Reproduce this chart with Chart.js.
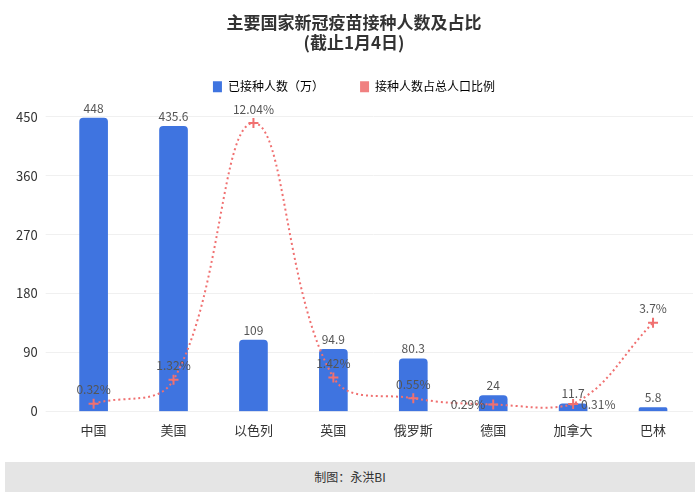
<!DOCTYPE html>
<html><head><meta charset="utf-8">
<script src="https://cdn.jsdelivr.net/npm/chart.js@4"></script>
<style>
body{margin:0;width:700px;height:500px;background:#fff;font-family:"Noto Sans CJK SC","Noto Sans",sans-serif;position:relative;overflow:hidden}
#wrap{position:absolute;left:0;top:0;width:700px;height:458px}
#foot{position:absolute;left:5px;top:462px;width:690px;height:30px;background:#e5e5e5;color:#333;font-size:12px;line-height:30px;text-align:center}
</style></head><body>
<div id="wrap"><canvas id="c" width="700" height="458" style="width:700px;height:458px"></canvas></div>
<div id="foot">制图：永洪BI</div>
<script>
const categories=["中国","美国","以色列","英国","俄罗斯","德国","加拿大","巴林"];
const vaccinated=[448,435.6,109,94.9,80.3,24,11.7,5.8];
const ratio=[0.32,1.32,12.04,1.42,0.55,0.29,0.31,3.7];
const ratioLabels=["0.32%","1.32%","12.04%","1.42%","0.55%","0.29%","0.31%","3.7%"];
const yTicks=[0,90,180,270,360,450];
const FONT='"Noto Sans CJK SC","Noto Sans",sans-serif';
const labels={id:'labels',afterInit(ch){const f=ch.legend.fit;ch.legend.fit=function(){f.call(this);this.height+=14;};},
 afterDatasetsDraw(ch){
 const c=ch.ctx;c.save();c.font='12px '+FONT;c.fillStyle='#555';c.textAlign='center';c.textBaseline='bottom';
 ch.getDatasetMeta(0).data.forEach((b,i)=>c.fillText(String(vaccinated[i]),b.x,b.y-4));
 ch.getDatasetMeta(1).data.forEach((p,i)=>{
  if(i===5){c.textAlign='right';c.textBaseline='middle';c.fillText(ratioLabels[i],p.x-8,p.y);}
  else if(i===6){c.textAlign='left';c.textBaseline='middle';c.fillText(ratioLabels[i],p.x+8,p.y);}
  else{c.textAlign='center';c.textBaseline='bottom';c.fillText(ratioLabels[i],p.x,p.y-8);}
 });c.restore();}};
new Chart(document.getElementById('c'),{
 data:{labels:categories,datasets:[
  {type:'bar',label:'已接种人数（万）',data:vaccinated,backgroundColor:'#3f74e0',barThickness:28,borderRadius:4,yAxisID:'y',order:2},
  {type:'line',label:'接种人数占总人口比例',data:ratio,borderColor:'#f07070',backgroundColor:'#f07070',borderWidth:2,borderDash:[2,3],tension:0.4,pointStyle:'cross',pointRadius:5,pointBorderWidth:2,yAxisID:'y1',order:1}
 ]},
 options:{responsive:false,animation:false,
  layout:{padding:{left:8,right:0,top:0,bottom:17}},
  plugins:{title:{display:true,text:['主要国家新冠疫苗接种人数及占比','(截止1月4日)'],font:{size:17,weight:'bold',family:FONT},color:'#333',padding:{top:12,bottom:8}},
   legend:{labels:{boxWidth:9,boxHeight:11,font:{size:12,family:FONT},color:'#333',padding:20,
    generateLabels:ch=>[{text:'已接种人数（万）      ',fillStyle:'#3f74e0',strokeStyle:'#3f74e0',lineWidth:0,datasetIndex:0},{text:'接种人数占总人口比例',fillStyle:'#f08080',strokeStyle:'#f08080',lineWidth:0,datasetIndex:1}]}},
   tooltip:{enabled:false}},
  scales:{x:{grid:{display:false},border:{display:false},ticks:{font:{size:13,family:FONT},color:'#333'}},
   y:{min:0,max:450,afterBuildTicks:a=>{a.ticks=yTicks.map(v=>({value:v}));},grid:{color:'#f0f0f0'},border:{display:false},ticks:{font:{size:13,family:FONT},color:'#333',padding:8}},
   y1:{display:false,min:0,max:12.3,position:'right'}}},
 plugins:[labels]});
</script></body></html>
